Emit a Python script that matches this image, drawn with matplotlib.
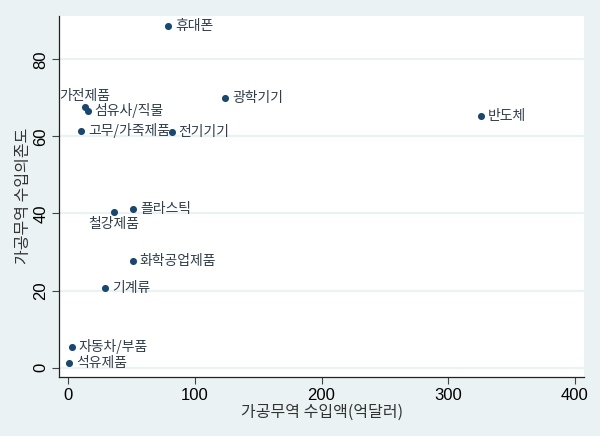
import matplotlib
matplotlib.use('Agg')
import matplotlib.pyplot as plt

plt.rcParams['font.family'] = ['Noto Sans CJK KR', 'DejaVu Sans']

# 품목별 가공무역 수입액(억달러)과 수입의존도
items = ['휴대폰', '광학기기', '가전제품', '섬유사/직물', '고무/가죽제품', '전기기기', '반도체',
         '플라스틱', '철강제품', '화학공업제품', '기계류', '자동차/부품', '석유제품']
imports = [79.0, 124.0, 13.2, 15.3, 10.0, 81.7, 325.7, 51.1, 36.1, 51.1, 29.0, 2.7, 0.8]
dependence = [88.7, 70.0, 67.5, 66.7, 61.5, 61.2, 65.4, 41.1, 40.3, 27.8, 20.8, 5.4, 1.1]
# label position (Stata clock style): 3 = right, 12 = above, 6 = below
label_pos = [3, 3, 12, 3, 3, 3, 3, 3, 6, 3, 3, 3, 3]

xticks = [0, 100, 200, 300, 400]
yticks = [0, 20, 40, 60, 80]

bg = '#eaf2f3'
navy = '#1a476f'
txt = '#2f3d4c'

fig = plt.figure(figsize=(6, 4.36), dpi=100, facecolor=bg)
ax = fig.add_axes([0.0988, 0.136, 0.8745, 0.828])
ax.set_facecolor('white')

ax.scatter(imports, dependence, s=26, color=navy, zorder=3, linewidths=0)

for name, x, y, pos in zip(items, imports, dependence, label_pos):
    if pos == 3:
        ax.annotate(name, (x, y), xytext=(5, 0), textcoords='offset points',
                    ha='left', va='center', fontsize=10, color=txt)
    elif pos == 12:
        ax.annotate(name, (x, y), xytext=(0, 3), textcoords='offset points',
                    ha='center', va='bottom', fontsize=10, color=txt, clip_on=True)
    else:
        ax.annotate(name, (x, y), xytext=(0, -3), textcoords='offset points',
                    ha='center', va='top', fontsize=10, color=txt)

ax.set_xlim(-7.1, 407.3)
ax.set_ylim(-2.33, 91.3)
ax.set_xticks(xticks)
ax.set_yticks(yticks)
ax.set_xticklabels([str(v) for v in xticks], fontsize=12, family='Liberation Sans')
ax.set_yticklabels([str(v) for v in yticks], fontsize=12, family='Liberation Sans',
                   rotation=90, va='center')
ax.tick_params(direction='out', length=5, width=0.8, color='#444444', pad=3)

ax.yaxis.grid(True, color=bg, linewidth=1.6)
ax.xaxis.grid(False)
ax.set_axisbelow(True)

for side in ['top', 'right']:
    ax.spines[side].set_visible(False)
for side in ['left', 'bottom']:
    ax.spines[side].set_color('#222222')
    ax.spines[side].set_linewidth(0.9)

ax.set_xlabel('가공무역 수입액(억달러)', fontsize=11.5, color='#333333', labelpad=1)
ax.set_ylabel('가공무역 수입의존도', fontsize=11.5, color='#333333', labelpad=0.5)

fig.savefig('out.png', dpi=100, facecolor=bg)
